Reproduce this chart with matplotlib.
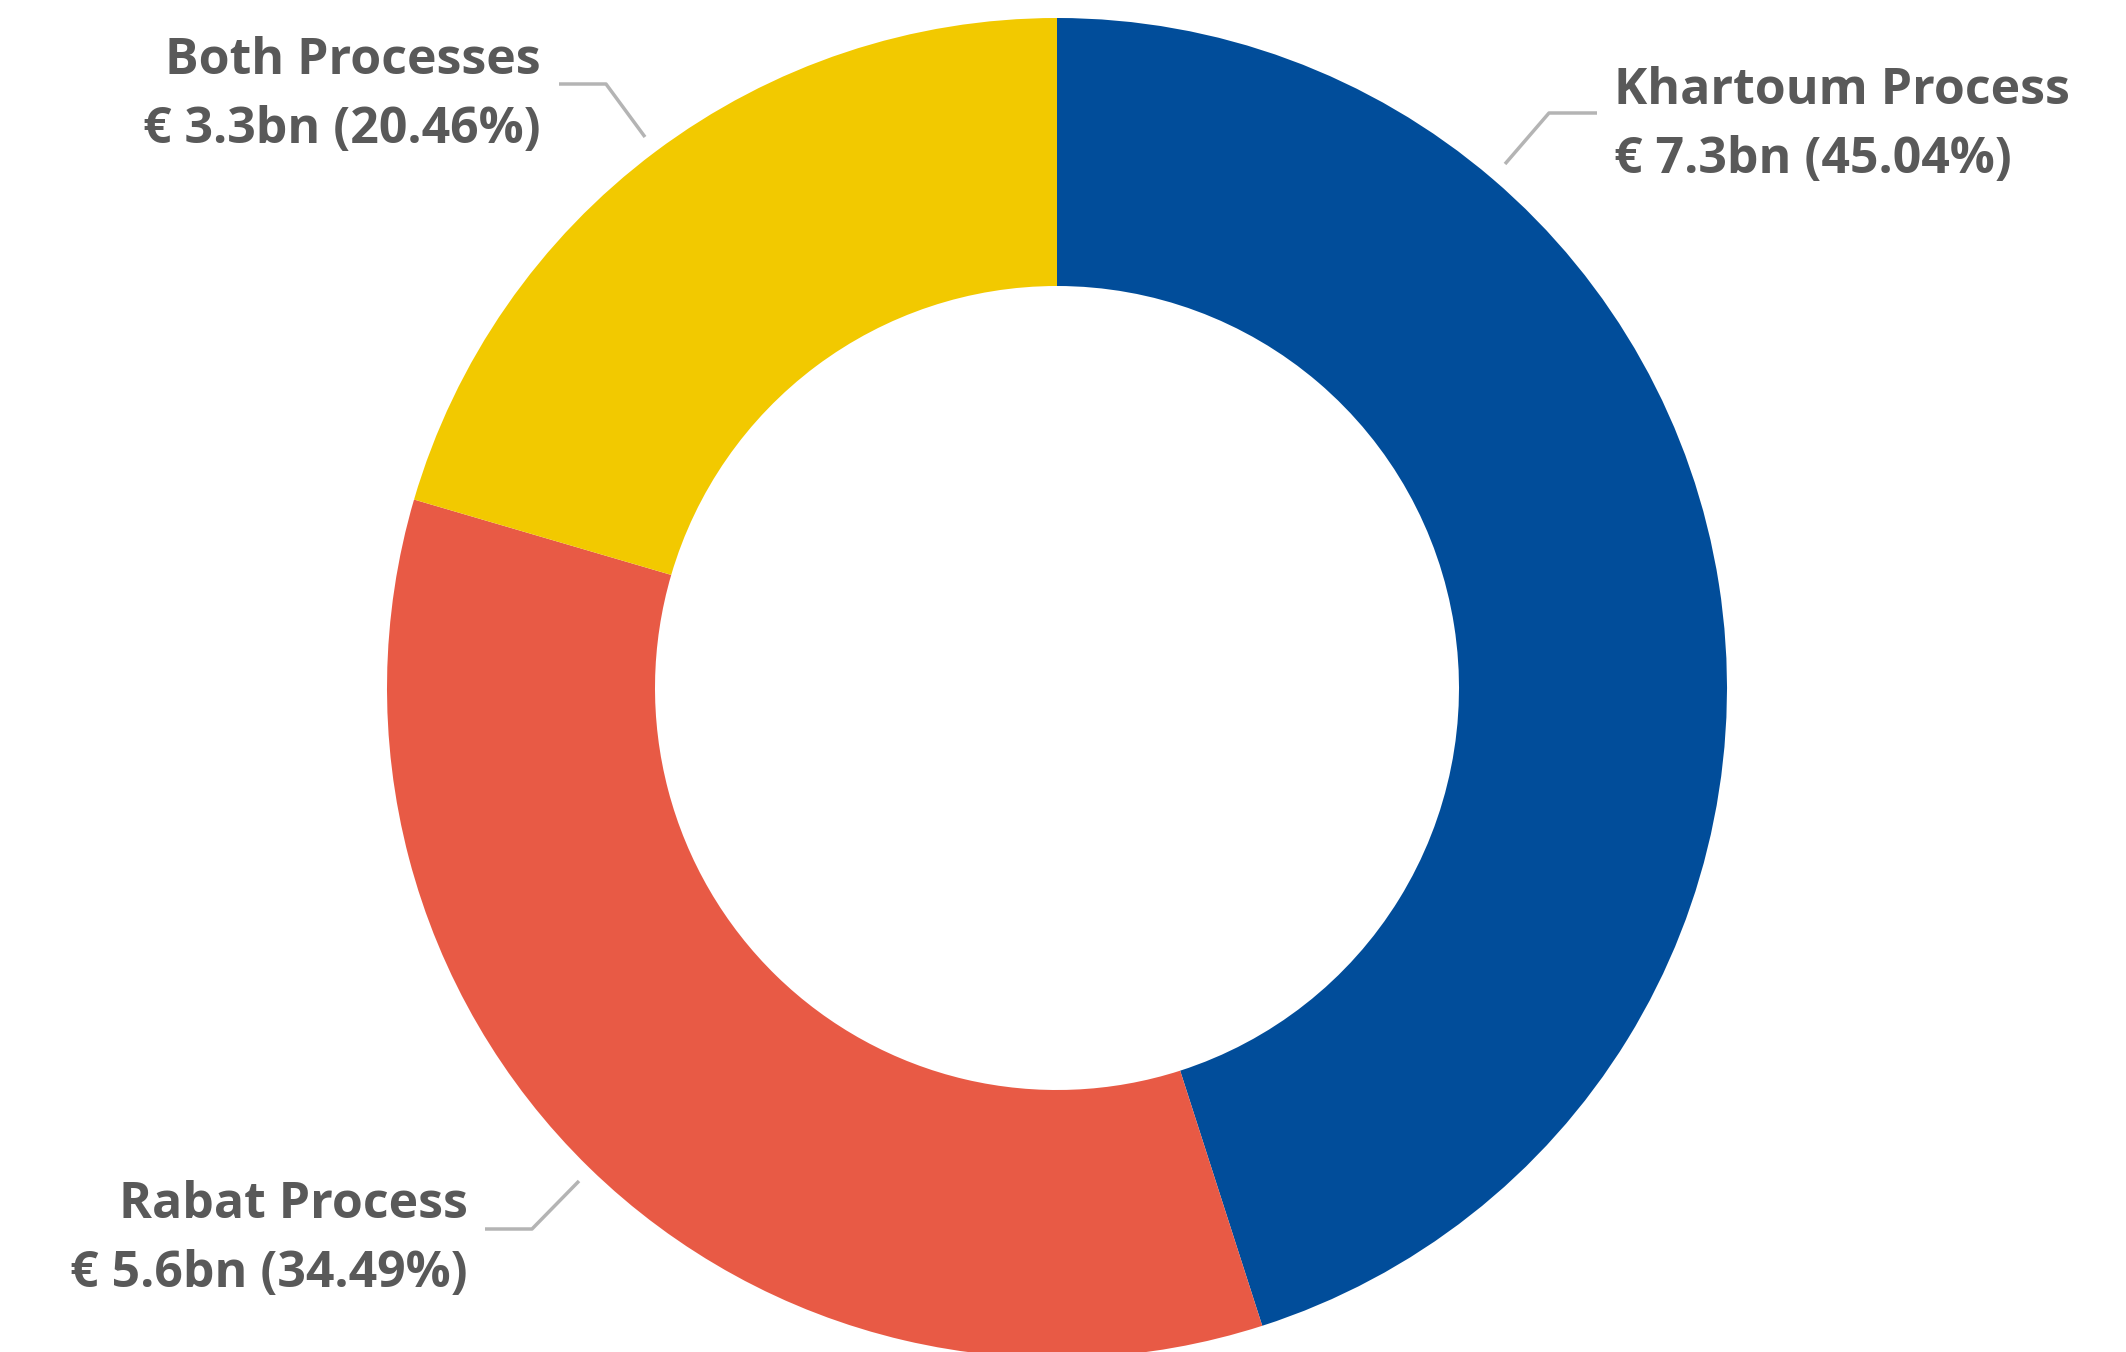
import matplotlib.pyplot as plt

labels = ['Khartoum Process', 'Rabat Process', 'Both Processes']
amounts = ['€ 7.3bn', '€ 5.6bn', '€ 3.3bn']
shares = [45.04, 34.49, 20.46]
colors = ['#014D9A', '#E85A45', '#F2C900']

W, H = 2126, 1352
TEXT_COLOR = '#595959'
LINE_COLOR = '#B4B4B4'
FONT_SIZE = 36

fig = plt.figure(figsize=(W / 100, H / 100), dpi=100)
ax = fig.add_axes([0, 0, 1, 1])

# pixel coords with y measured from top
cx, cy, r = 1057, 688, 670
ax.pie(shares, colors=colors, startangle=90, counterclock=False,
       radius=r, center=(cx, H - cy),
       wedgeprops=dict(width=r * 0.4, edgecolor='none', linewidth=0))
ax.set_xlim(0, W)
ax.set_ylim(0, H)
ax.set_aspect('equal', adjustable='box')
ax.axis('off')

def fy(y):
    return H - y

# label positions: (x, baseline1, baseline2, ha), leader points
label_pos = {
    'Khartoum Process': (1614, 104, 173, 'left'),
    'Rabat Process': (468, 1218, 1287, 'right'),
    'Both Processes': (541, 74, 143, 'right'),
}
leaders = {
    'Khartoum Process': [(1505, 164), (1549, 113), (1597, 113)],
    'Rabat Process': [(579, 1181), (532, 1229), (485, 1229)],
    'Both Processes': [(645, 137), (606, 84), (559, 84)],
}

for lab, amt, sh in zip(labels, amounts, shares):
    x, b1, b2, ha = label_pos[lab]
    kw = dict(ha=ha, va='baseline', fontsize=FONT_SIZE, color=TEXT_COLOR,
              family='Open Sans', weight='bold')
    ax.text(x, fy(b1), lab, **kw)
    ax.text(x, fy(b2), f'{amt} ({sh:.2f}%)', **kw)
    pts = leaders[lab]
    ax.plot([p[0] for p in pts], [fy(p[1]) for p in pts],
            color=LINE_COLOR, lw=2.5, solid_capstyle='butt')

fig.savefig('out.png', dpi=100)
